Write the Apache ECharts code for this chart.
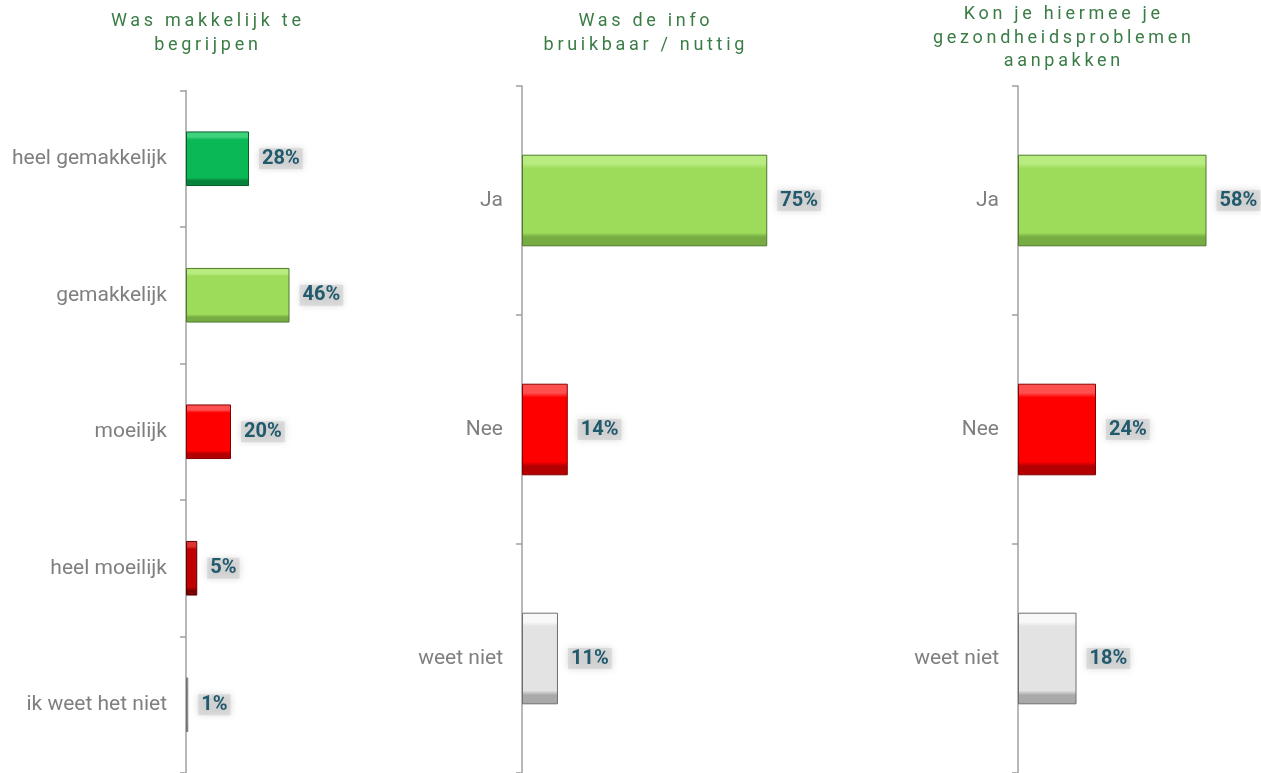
<!DOCTYPE html>
<html>
<head>
<meta charset="utf-8">
<script src="https://cdn.jsdelivr.net/npm/echarts@6/dist/echarts.min.js"></script>
<style>
  html, body { margin: 0; padding: 0; background: #ffffff; }
  #wrap { position: relative; width: 1261px; height: 773px; overflow: hidden; }
  #chart { position: absolute; left: 0; top: 0; width: 1261px; height: 773px; }
  .ttl {
    position: absolute; width: 400px; text-align: center;
    font-family: Roboto, "Noto Sans", sans-serif; font-size: 18px;
    letter-spacing: 3.7px; padding-left: 3.7px; box-sizing: border-box;
    line-height: 23.5px; color: #3a7c45; white-space: nowrap;
  }
</style>
</head>
<body>
<div id="wrap">
  <div id="chart"></div>
  <div class="ttl" id="t1"></div>
  <div class="ttl" id="t2"></div>
  <div class="ttl" id="t3"></div>
</div>
<script>
// Survey answers, percentages per question
const titleEase = ['Was makkelijk te', 'begrijpen'];
const catsEase = ['heel gemakkelijk', 'gemakkelijk', 'moeilijk', 'heel moeilijk', 'ik weet het niet'];
const valsEase = [28, 46, 20, 5, 1];

const titleUseful = ['Was de info', 'bruikbaar / nuttig'];
const catsUseful = ['Ja', 'Nee', 'weet niet'];
const valsUseful = [75, 14, 11];

const titleTackle = ['Kon je hiermee je', 'gezondheidsproblemen', 'aanpakken'];
const catsTackle = ['Ja', 'Nee', 'weet niet'];
const valsTackle = [58, 24, 18];

// Titles (HTML for wide letter spacing)
function placeTitle(id, lines, cx, top) {
  const el = document.getElementById(id);
  el.innerHTML = lines.map(s => s.replace(/&/g, '&amp;').replace(/</g, '&lt;')).join('<br>');
  el.style.left = (cx - 200) + 'px';
  el.style.top = top + 'px';
}
placeTitle('t1', titleEase, 206, 8);
placeTitle('t2', titleUseful, 644, 8);
placeTitle('t3', titleTackle, 1062, 1);

// Bevelled bar look: light top edge, base face, dark bottom edge
const tones = {
  darkGreen:  { light: '#3fd27d', base: '#0ab955', dark: '#07823b', border: '#055f2b' },
  lightGreen: { light: '#b9ec80', base: '#9ddc5a', dark: '#76ac42', border: '#4f7a2b' },
  red:        { light: '#ff5050', base: '#ff0000', dark: '#b30000', border: '#870000' },
  darkRed:    { light: '#dc3434', base: '#c00000', dark: '#7d0000', border: '#5c0000' },
  grey:       { light: '#f8f8f8', base: '#e3e3e3', dark: '#a9a9a9', border: '#6f6f6f' }
};
const toneEase = ['darkGreen', 'lightGreen', 'red', 'darkRed', 'grey'];
const toneYesNo = ['lightGreen', 'red', 'grey'];

function bevel(name) {
  const t = tones[name];
  return {
    color: new echarts.graphic.LinearGradient(0, 0, 0, 1, [
      { offset: 0, color: t.light },
      { offset: 0.1, color: t.light },
      { offset: 0.15, color: t.base },
      { offset: 0.85, color: t.base },
      { offset: 0.9, color: t.dark },
      { offset: 1, color: t.dark }
    ]),
    borderColor: t.border,
    borderWidth: 1
  };
}

const FONT = 'Roboto, "Noto Sans", sans-serif';
const axisGrey = '#a0a0a0';

function yAxis(gridIndex, cats) {
  return {
    type: 'category', gridIndex: gridIndex, data: cats, inverse: true,
    axisLine: { show: true, lineStyle: { color: axisGrey, width: 1.5 } },
    axisTick: { show: true, length: 6, lineStyle: { color: axisGrey, width: 1.5 } },
    axisLabel: { color: '#7f7f7f', fontSize: 21, fontFamily: FONT, margin: 19 }
  };
}
function xAxis(gridIndex, max) {
  return { type: 'value', gridIndex: gridIndex, min: 0, max: max, show: false };
}
function series(idx, vals, toneList) {
  return {
    type: 'bar', xAxisIndex: idx, yAxisIndex: idx,
    barCategoryGap: '60%',
    data: vals.map((v, i) => ({ value: v, itemStyle: bevel(toneList[i]) })),
    label: {
      show: true, position: 'right', distance: 10,
      formatter: '{c}%',
      color: '#215a6c', fontSize: 20, fontWeight: 'bold', fontFamily: FONT,
      backgroundColor: 'rgba(200,200,200,0.5)',
      padding: [1, 3, 0, 3],
      shadowColor: 'rgba(150,150,150,0.7)', shadowBlur: 7
    }
  };
}

const chart = echarts.init(document.getElementById('chart'), null, { renderer: 'canvas' });
chart.setOption({
  animation: false,
  grid: [
    { left: 186, top: 90.5, width: 225, height: 686 },
    { left: 522, top: 86, width: 327, height: 687 },
    { left: 1018, top: 86, width: 227.5, height: 687 }
  ],
  xAxis: [xAxis(0, 100), xAxis(1, 100), xAxis(2, 70)],
  yAxis: [yAxis(0, catsEase), yAxis(1, catsUseful), yAxis(2, catsTackle)],
  series: [
    series(0, valsEase, toneEase),
    series(1, valsUseful, toneYesNo),
    series(2, valsTackle, toneYesNo)
  ]
});
</script>
</body>
</html>
